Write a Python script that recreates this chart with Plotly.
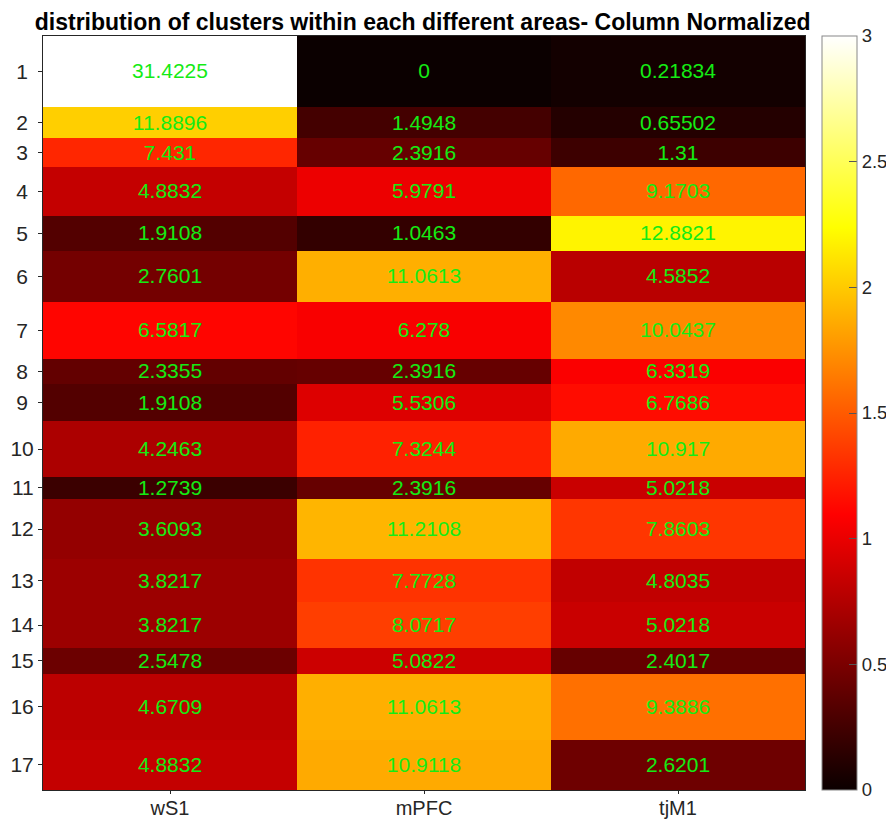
import plotly.graph_objects as go

areas = ["wS1", "mPFC", "tjM1"]
clusters = [str(i) for i in range(1, 18)]

ws1 = [31.4225, 11.8896, 7.431, 4.8832, 1.9108, 2.7601, 6.5817, 2.3355, 1.9108,
       4.2463, 1.2739, 3.6093, 3.8217, 3.8217, 2.5478, 4.6709, 4.8832]
mpfc = [0, 1.4948, 2.3916, 5.9791, 1.0463, 11.0613, 6.278, 2.3916, 5.5306,
        7.3244, 2.3916, 11.2108, 7.7728, 8.0717, 5.0822, 11.0613, 10.9118]
tjm1 = [0.21834, 0.65502, 1.31, 9.1703, 12.8821, 4.5852, 10.0437, 6.3319, 6.7686,
        10.917, 5.0218, 7.8603, 4.8035, 5.0218, 2.4017, 9.3886, 2.6201]

# row boundaries (non-uniform row heights, as in the source figure)
row_edges = [0, 70.7, 102.3, 130.7, 179.7, 214.7, 265.7, 322.3, 348, 384.7,
             440.7, 462.3, 523, 565.7, 611.3, 637.3, 703.3, 753.3]

cbar_ticks = [0, 0.5, 1, 1.5, 2, 2.5, 3]

cols = [ws1, mpfc, tjm1]
n = len(clusters)
# column-normalized: value relative to the column mean
z = []
text = []
for i in range(n):
    zr, tr = [], []
    for c in cols:
        mean = sum(c) / len(c)
        zr.append(c[i] / mean)
        tr.append(f"{c[i]:g}")
    z.append(zr)
    text.append(tr)

centers = [(row_edges[i] + row_edges[i + 1]) / 2 for i in range(n)]
# labels appear centred in the reference; pad single digits
ylabels = [c + "\u00a0" if len(c) == 1 else c for c in clusters]

hot = [
    [0.0, "rgb(11,0,0)"],
    [0.365, "rgb(255,0,0)"],
    [0.746, "rgb(255,255,0)"],
    [1.0, "rgb(255,255,255)"],
]

FONT = "Liberation Sans, Arial, sans-serif"

fig = go.Figure(
    go.Heatmap(
        z=z,
        x=areas,
        y=row_edges,
        text=text,
        texttemplate="%{text}",
        textfont=dict(family=FONT, size=21, color="rgb(20,235,20)"),
        colorscale=hot,
        zmin=0,
        zmax=3,
        hoverinfo="skip",
        colorbar=dict(
            x=1.0223,
            xanchor="left",
            xpad=0,
            ypad=0,
            y=0.5,
            len=1,
            lenmode="fraction",
            thickness=35,
            outlinewidth=1,
            outlinecolor="#888888",
            ticks="inside",
            ticklen=8,
            tickcolor="#555555",
            tickvals=cbar_ticks,
            ticktext=[f"{t:g}" for t in cbar_ticks],
            tickfont=dict(family=FONT, size=18.5, color="#262626"),
        ),
    )
)

fig.update_layout(
    width=886,
    height=812,
    margin=dict(l=35, r=89, t=28, b=30, autoexpand=False),
    paper_bgcolor="white",
    plot_bgcolor="white",
    title=dict(
        text="<b>distribution of clusters within each different areas- Column Normalized</b>",
        x=0.468,
        xanchor="center",
        y=0.9834,
        yanchor="middle",
        font=dict(family=FONT, size=23, color="black"),
    ),
)

fig.update_xaxes(
    automargin=False,
    showline=True, linecolor="#262626", linewidth=1, mirror=True,
    ticks="outside", ticklen=3, tickcolor="#262626",
    ticklabelstandoff=-3,
    tickfont=dict(family=FONT, size=20, color="#262626"),
    showgrid=False, zeroline=False,
)
fig.update_yaxes(
    automargin=False,
    range=[row_edges[-1], row_edges[0]],
    tickvals=centers,
    ticktext=ylabels,
    showline=True, linecolor="#262626", linewidth=1, mirror=True,
    ticks="outside", ticklen=4, tickcolor="#262626",
    tickfont=dict(family=FONT, size=21, color="#262626"),
    showgrid=False, zeroline=False,
)

fig.write_html("out.html")
